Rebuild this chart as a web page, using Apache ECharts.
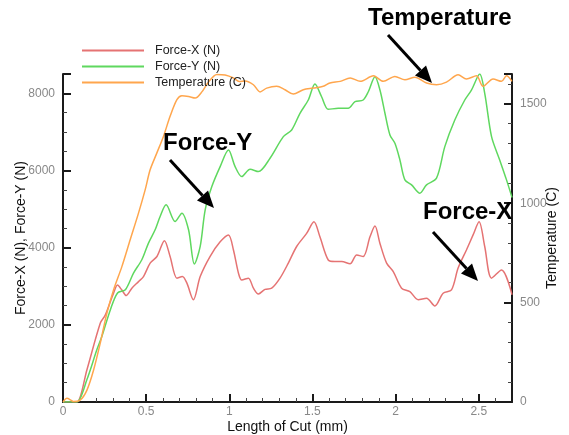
<!DOCTYPE html>
<html>
<head>
<meta charset="utf-8">
<title>Force and temperature vs length of cut</title>
<script src="https://cdn.jsdelivr.net/npm/echarts@6.0.0/dist/echarts.min.js"></script>
<style>
  html, body { margin: 0; padding: 0; background: #fff; }
  #chart { width: 569px; height: 435px; }
</style>
</head>
<body>
<div id="chart"></div>
<script>
// length of cut (mm) and values
const forceXLen = [0, 0.05, 0.084, 0.144, 0.224, 0.254, 0.304, 0.328, 0.354, 0.38, 0.414, 0.454, 0.484, 0.524, 0.565, 0.61, 0.644, 0.685, 0.718, 0.745, 0.784, 0.825, 0.884, 0.945, 0.995, 1.025, 1.055, 1.075, 1.115, 1.145, 1.175, 1.215, 1.255, 1.305, 1.355, 1.405, 1.465, 1.509, 1.545, 1.595, 1.635, 1.676, 1.726, 1.766, 1.805, 1.846, 1.876, 1.906, 1.946, 1.986, 2.036, 2.086, 2.136, 2.186, 2.236, 2.286, 2.336, 2.376, 2.426, 2.466, 2.502, 2.536, 2.577, 2.637, 2.7];
const forceX = [0, 0, 0, 838, 2043, 2250, 2820, 3030, 2900, 2760, 2950, 3120, 3250, 3600, 3770, 4180, 3770, 3210, 3250, 3080, 2650, 3250, 3770, 4150, 4330, 3940, 3340, 3160, 3210, 2950, 2800, 2920, 2950, 3210, 3600, 4030, 4370, 4670, 4280, 3680, 3640, 3640, 3580, 3810, 3770, 4280, 4560, 4110, 3600, 3380, 2950, 2860, 2650, 2690, 2490, 2820, 2905, 3470, 3940, 4330, 4670, 4030, 3210, 3420, 2780];

const forceYLen = [0, 0.05, 0.084, 0.144, 0.204, 0.234, 0.285, 0.328, 0.375, 0.424, 0.474, 0.514, 0.554, 0.584, 0.62, 0.674, 0.715, 0.755, 0.79, 0.825, 0.855, 0.895, 0.945, 0.995, 1.035, 1.075, 1.125, 1.175, 1.245, 1.325, 1.375, 1.425, 1.475, 1.515, 1.555, 1.595, 1.655, 1.715, 1.756, 1.805, 1.836, 1.876, 1.906, 1.936, 1.966, 1.996, 2.026, 2.056, 2.096, 2.146, 2.186, 2.246, 2.296, 2.356, 2.416, 2.456, 2.506, 2.536, 2.577, 2.626, 2.667, 2.7];
const forceY = [0, 0, 0, 582, 1358, 1702, 2393, 2825, 2910, 3342, 3686, 4118, 4463, 4807, 5110, 4678, 4894, 4463, 3575, 4031, 4980, 5583, 6100, 6532, 6100, 5841, 6032, 5971, 6317, 6876, 7050, 7482, 7826, 8240, 7911, 7585, 7611, 7611, 7782, 7826, 8040, 8428, 8084, 7482, 6920, 6705, 6273, 5756, 5627, 5412, 5627, 5800, 6618, 7308, 7826, 8084, 8498, 7999, 6876, 6273, 5756, 5300];

const tempLen = [0, 0.024, 0.05, 0.064, 0.104, 0.144, 0.184, 0.224, 0.264, 0.304, 0.354, 0.404, 0.454, 0.494, 0.524, 0.564, 0.604, 0.644, 0.685, 0.715, 0.755, 0.795, 0.835, 0.875, 0.925, 0.975, 1.025, 1.06, 1.095, 1.145, 1.185, 1.225, 1.285, 1.335, 1.385, 1.445, 1.505, 1.565, 1.605, 1.667, 1.727, 1.787, 1.867, 1.926, 1.996, 2.056, 2.116, 2.186, 2.246, 2.306, 2.376, 2.426, 2.486, 2.526, 2.586, 2.637, 2.667, 2.7];
const temperature = [0, 19, 8, 2, 10, 60, 161, 296, 447, 564, 681, 816, 950, 1067, 1168, 1252, 1336, 1437, 1521, 1541, 1537, 1529, 1560, 1610, 1648, 1645, 1630, 1612, 1615, 1596, 1560, 1579, 1588, 1571, 1549, 1571, 1579, 1588, 1605, 1613, 1630, 1613, 1641, 1613, 1638, 1621, 1634, 1605, 1596, 1609, 1646, 1625, 1641, 1588, 1625, 1613, 1641, 1613];

const leftTicks = { min: 0, max: 8500, interval: 2000 };
const rightTicks = { min: 0, max: 1650, interval: 500 };

const font = "'Liberation Sans', Arial, sans-serif";

const pairs = (xs, ys) => xs.map((x, i) => [x, ys[i]]);

// arrow = line + triangle head, pixel coords
const arrow = (x1, y1, x2, y2) => {
  const len = Math.hypot(x2 - x1, y2 - y1);
  const ux = (x2 - x1) / len, uy = (y2 - y1) / len;
  const hl = 17, hw = 7.5;
  const bx = x2 - ux * hl, by = y2 - uy * hl;
  return [
    {
      type: 'line',
      shape: { x1: x1, y1: y1, x2: bx, y2: by },
      style: { stroke: '#000', lineWidth: 3 },
      z: 100
    },
    {
      type: 'polygon',
      shape: { points: [[x2, y2], [bx - uy * hw, by + ux * hw], [bx + uy * hw, by - ux * hw]] },
      style: { fill: '#000' },
      z: 100
    }
  ];
};

const label = (text, x, y) => ({
  type: 'text',
  left: x,
  top: y,
  z: 100,
  style: { text: text, fill: '#000', font: 'bold 24px ' + font }
});

const tickLabel = {
  color: '#888',
  fontSize: 12,
  fontFamily: font,
  showMaxLabel: false,
  formatter: (v) => String(v)
};

const axisCommon = {
  nameMoveOverlap: false,
  axisLine: { lineStyle: { color: '#1a1a1a', width: 2 } },
  axisTick: { inside: true, length: 8, lineStyle: { color: '#1a1a1a', width: 2 } },
  minorTick: { show: true, length: 4, lineStyle: { color: '#444', width: 1 } },
  splitLine: { show: false },
  nameTextStyle: { color: '#111', fontSize: 14, fontFamily: font }
};

const myChart = echarts.init(document.getElementById('chart'));

const option = {
  backgroundColor: '#fff',
  animation: false,
  grid: { left: 63, right: 57, top: 74, bottom: 33, containLabel: false, outerBoundsMode: 'none' },
  legend: {
    orient: 'vertical',
    left: 77,
    top: 38,
    icon: 'rect',
    itemWidth: 62,
    itemHeight: 2,
    itemGap: 1,
    textStyle: { color: '#222', fontSize: 12.5, fontFamily: font, padding: [0, 0, 0, 6], lineHeight: 15 },
    data: ['Force-X (N)', 'Force-Y (N)', 'Temperature (C)']
  },
  xAxis: {
    type: 'value',
    min: 0,
    max: 2.7,
    interval: 0.5,
    name: 'Length of Cut (mm)',
    nameLocation: 'middle',
    nameGap: 18,
    ...axisCommon,
    minorTick: { ...axisCommon.minorTick, splitNumber: 5 },
    axisLabel: { ...tickLabel, margin: 4 }
  },
  yAxis: [
    {
      type: 'value',
      position: 'left',
      ...leftTicks,
      name: 'Force-X (N), Force-Y (N)',
      nameLocation: 'middle',
      nameGap: 35,
      ...axisCommon,
      minorTick: { ...axisCommon.minorTick, splitNumber: 4 },
      axisLabel: { ...tickLabel, margin: 8 }
    },
    {
      type: 'value',
      position: 'right',
      ...rightTicks,
      name: 'Temperature (C)',
      nameLocation: 'middle',
      nameGap: 33,
      ...axisCommon,
      minorTick: { ...axisCommon.minorTick, splitNumber: 5 },
      axisLabel: { ...tickLabel, margin: 8 }
    }
  ],
  series: [
    {
      name: 'Force-X (N)',
      type: 'line',
      yAxisIndex: 0,
      symbol: 'none',
      smooth: 0.3,
      color: '#e57373',
      lineStyle: { width: 1.5 },
      data: pairs(forceXLen, forceX)
    },
    {
      name: 'Force-Y (N)',
      type: 'line',
      yAxisIndex: 0,
      symbol: 'none',
      smooth: 0.3,
      color: '#5fd85f',
      lineStyle: { width: 1.5 },
      data: pairs(forceYLen, forceY)
    },
    {
      name: 'Temperature (C)',
      type: 'line',
      yAxisIndex: 1,
      symbol: 'none',
      smooth: 0.3,
      color: '#ffa64d',
      lineStyle: { width: 1.5 },
      data: pairs(tempLen, temperature)
    }
  ],
  graphic: [
    label('Temperature', 368, 6),
    label('Force-Y', 163, 131),
    label('Force-X', 423, 200),
    ...arrow(388, 35, 432, 83),
    ...arrow(170, 160, 214, 208),
    ...arrow(433, 232, 478, 281)
  ]
};

option && myChart.setOption(option);
</script>
</body>
</html>
